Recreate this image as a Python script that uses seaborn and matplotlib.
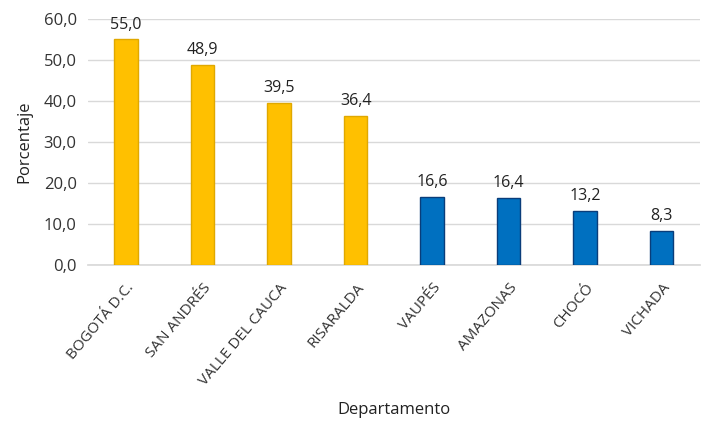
import pandas as pd
import matplotlib
matplotlib.use('Agg')
import matplotlib.pyplot as plt
import seaborn as sns

# Data
departamentos = ['BOGOTÁ D.C.', 'SAN ANDRÉS', 'VALLE DEL CAUCA', 'RISARALDA',
                 'VAUPÉS', 'AMAZONAS', 'CHOCÓ', 'VICHADA']
porcentajes = [55.0, 48.9, 39.5, 36.4, 16.6, 16.4, 13.2, 8.3]
grupo = ['alto', 'alto', 'alto', 'alto', 'bajo', 'bajo', 'bajo', 'bajo']

colores = {'alto': '#FFC000', 'bajo': '#0070C0'}
bordes = {'alto': '#E0A800', 'bajo': '#0A3D7A'}

df = pd.DataFrame({'Departamento': departamentos, 'Porcentaje': porcentajes, 'grupo': grupo})

sns.set_theme(style='white')
plt.rcParams['font.family'] = ['Open Sans', 'DejaVu Sans']

fig = plt.figure(figsize=(7.02, 4.22), dpi=100)
ax = fig.add_axes([0.125, 0.372, 0.872, 0.583])

sns.barplot(data=df, x='Departamento', y='Porcentaje', hue='grupo',
            palette=colores, saturation=1, dodge=False, width=0.31,
            legend=False, ax=ax, zorder=3)

# edge colours and value labels per group
for container, g in zip(ax.containers, ['alto', 'bajo']):
    for bar in container:
        bar.set_edgecolor(bordes[g])
        bar.set_linewidth(1.0)
    labels = [f'{v:.1f}'.replace('.', ',') for v in container.datavalues]
    ax.bar_label(container, labels=labels, padding=5, fontsize=11.5, color='#222222')

ax.set_ylim(0, 60)
ax.set_yticks(range(0, 61, 10))
ax.set_yticklabels([f'{v:.1f}'.replace('.', ',') for v in range(0, 61, 10)],
                   fontsize=12, color='#333333')
ax.yaxis.grid(True, color='#D9D9D9', linewidth=1, zorder=0)
ax.set_axisbelow(True)

ax.set_xticks(range(len(departamentos)))
ax.set_xticklabels(departamentos, rotation=50, ha='right', rotation_mode='anchor',
                   fontsize=11, color='#333333')
ax.tick_params(axis='y', length=0, pad=8)
ax.tick_params(axis='x', length=0, pad=11)

for s in ['top', 'right', 'left']:
    ax.spines[s].set_visible(False)
ax.spines['bottom'].set_color('#D9D9D9')

ax.set_xlim(-0.5, len(departamentos) - 0.5)
ax.set_ylabel('Porcentaje', fontsize=12, color='#222222', labelpad=8)
ax.set_xlabel('Departamento', fontsize=12, color='#222222')
ax.xaxis.set_label_coords(0.5, -0.555)

fig.savefig('out.png', dpi=100)
